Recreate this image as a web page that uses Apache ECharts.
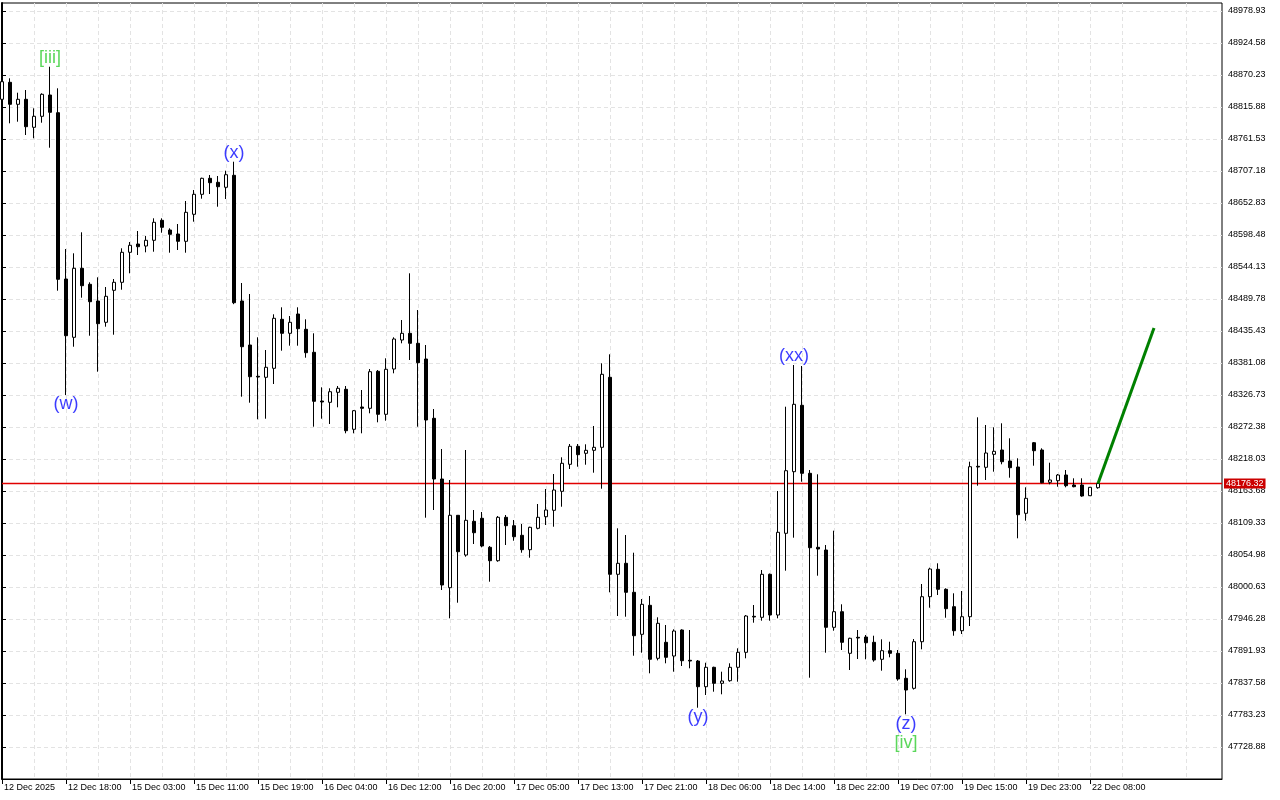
<!DOCTYPE html>
<html>
<head>
<meta charset="utf-8">
<script src="https://cdn.jsdelivr.net/npm/echarts@6/dist/echarts.min.js"></script>
<style>
html,body{margin:0;padding:0;background:#fff;}
#chart{width:1280px;height:800px;}
</style>
</head>
<body>
<div id="chart"></div>
<script>
// ---- data (hourly bars, index 0 = 12 Dec 2025 10:00) ----
const opens = [48828.95,48857.83,48820.46,48828.95,48781.40,48800.08,48836.26,48806.20,48523.75,48424.73,
48541.92,48514.74,48486.38,48450.20,48504.55,48518.14,48569.09,48583.19,48579.79,48589.47,
48623.44,48606.97,48600.18,48587.78,48633.63,48667.60,48694.78,48687.98,48679.49,48699.87,
48486.38,48411.65,48358.49,48356.79,48372.08,48455.30,48431.52,48464.30,48438.31,48399.25,
48316.54,48314.33,48331.31,48336.41,48268.47,48306.34,48304.14,48366.98,48293.95,48370.89,
48420.14,48431.52,48414.54,48387.87,48287.15,48184.06,47999.45,48122.40,48054.98,48112.21,
48117.31,48068.05,48045.29,48119.01,48104.74,48088.44,48063.98,48100.32,48120.02,48130.90,
48163.17,48209.02,48239.59,48227.71,48232.80,48237.90,48356.79,48022.20,48040.88,47991.62,
47920.29,47969.55,47879.53,47906.70,47883.43,47927.59,47876.13,47874.93,47831.29,47864.24,
47837.07,47841.48,47864.24,47889.72,47950.86,47949.16,48022.20,47953.07,48091.83,48196.46,
48309.23,48193.74,48068.05,48063.47,47932.18,47958.67,47888.02,47915.19,47915.70,47906.70,
47877.83,47892.44,47888.02,47845.56,47828.57,47907.72,47984.15,48030.69,47996.72,47967.17,
47926.40,47950.18,48205.63,48203.93,48226.01,48233.31,48214.63,48204.44,48125.80,48245.71,
48233.31,48178.45,48181.17,48190.85,48173.87,48173.87,48155.69,48169.28];
const highs = [48863.43,48864.62,48840.16,48844.75,48813.67,48839.15,48884.32,48847.64,48574.70,48567.40,
48603.06,48518.14,48526.63,48510.16,48523.75,48575.89,48586.59,48605.27,48596.78,48626.84,
48626.84,48609.86,48617.16,48656.22,48674.91,48695.80,48700.38,48698.68,48707.69,48722.97,
48516.95,48498.27,48424.73,48403.16,48463.79,48475.68,48460.90,48475.68,48455.30,48431.52,
48339.80,48338.11,48342.01,48342.01,48301.25,48335.22,48370.89,48369.19,48389.06,48424.73,
48454.11,48533.43,48471.09,48411.65,48302.95,48235.01,48182.36,48122.91,48233.31,48131.41,
48128.01,48070.26,48121.21,48122.91,48114.42,48107.63,48103.04,48141.60,48167.07,48192.55,
48220.91,48243.50,48243.50,48242.99,48274.08,48380.57,48395.85,48100.32,48088.94,48058.88,
47980.24,47985.34,47949.16,47936.08,47928.78,47928.78,47927.59,47876.64,47872.05,47865.26,
47856.77,47871.04,47896.51,47953.07,47970.05,48029.50,48023.50,48163.68,48306.85,48377.68,
48375.98,48199.34,48192.04,48071.96,48096.25,47971.24,47914.52,47927.59,47919.10,47917.91,
47911.80,47907.72,47893.62,47860.84,47912.31,48005.72,48033.41,48040.88,47998.42,47989.93,
47993.83,48213.44,48288.85,48275.77,48271.87,48278.66,48253.18,48219.21,48169.96,48246.90,
48236.20,48211.74,48192.55,48199.34,48185.25,48185.25,48170.50,48176.85];
const lows = [48822.67,48788.19,48790.91,48768.32,48762.72,48789.21,48746.75,48503.87,48326.73,48408.76,
48491.98,48427.44,48366.30,48442.73,48429.14,48505.56,48533.43,48564.51,48569.09,48570.11,
48602.38,48568.42,48573.00,48568.42,48621.07,48660.13,48668.11,48646.54,48659.62,48481.00,
48323.84,48313.65,48285.45,48286.47,48345.41,48401.97,48410.46,48410.46,48390.08,48272.89,
48286.47,48277.47,48305.84,48261.68,48261.68,48261.68,48295.64,48280.36,48283.08,48363.58,
48414.54,48386.17,48272.89,48118.33,48131.41,47995.53,47947.46,47973.96,48052.09,48073.66,
48068.05,48009.63,48043.50,48071.96,48079.26,48058.88,48050.39,48098.62,48105.93,48103.04,
48137.01,48201.04,48204.95,48208.34,48194.76,48167.58,47991.62,47951.37,47950.18,47883.94,
47889.04,47854.05,47876.00,47871.04,47856.77,47866.45,47862.54,47795.62,47817.19,47822.80,
47818.38,47839.78,47839.78,47879.53,47940.00,47943.39,47943.39,47947.46,48028.31,48084.36,
48179.47,47846.58,48019.82,47889.04,47926.40,47893.62,47859.66,47878.34,47877.83,47873.75,
47858.47,47881.23,47841.48,47784.41,47826.50,47894.81,47965.47,47987.04,47948.48,47917.91,
47920.80,47934.39,48172.68,48182.36,48196.46,48209.02,48186.27,48083.34,48113.23,48206.65,
48176.75,48175.05,48171.00,48169.96,48169.96,48153.99,48155.20,48167.58];
const closes = [48858.85,48820.46,48828.95,48782.42,48800.08,48837.45,48806.88,48523.24,48427.44,48541.92,
48512.37,48485.19,48447.82,48494.36,48518.14,48569.09,48580.98,48578.60,48589.47,48620.05,
48611.55,48599.67,48587.78,48637.03,48667.60,48694.78,48687.31,48680.51,48700.89,48483.49,
48408.76,48357.80,48357.30,48373.79,48457.00,48431.52,48450.20,48439.33,48398.57,48316.03,
48314.84,48332.33,48338.11,48266.09,48300.06,48304.14,48366.30,48293.95,48370.38,48421.84,
48431.52,48414.54,48381.59,48284.27,48184.06,48004.02,48122.40,48060.58,48113.91,48092.85,
48070.26,48045.29,48119.01,48104.74,48086.06,48063.98,48102.02,48119.01,48131.41,48165.37,
48210.72,48239.59,48225.33,48232.80,48237.90,48361.88,48022.20,48040.88,47991.62,47917.91,
47971.24,47877.83,47938.97,47881.23,47925.89,47875.45,47874.93,47831.29,47864.24,47837.07,
47840.97,47864.24,47889.72,47951.37,47949.67,48022.20,47953.07,48093.53,48198.16,48310.93,
48193.74,48067.38,48065.17,47932.18,47958.67,47906.70,47913.50,47914.01,47906.02,47876.64,
47892.44,47888.02,47844.37,47825.69,47907.72,47984.15,48031.20,47996.72,47963.77,47926.40,
47950.18,48204.95,48204.44,48228.22,48231.10,48213.44,48203.25,48123.42,48151.28,48232.12,
48177.77,48182.36,48190.85,48172.68,48171.00,48155.18,48169.96,48176.32];

// x tick labels, one every 8 bars starting at bar 0
const xTickLabels = ['12 Dec 2025','12 Dec 18:00','15 Dec 03:00','15 Dec 11:00','15 Dec 19:00',
'16 Dec 04:00','16 Dec 12:00','16 Dec 20:00','17 Dec 05:00','17 Dec 13:00','17 Dec 21:00',
'18 Dec 06:00','18 Dec 14:00','18 Dec 22:00','19 Dec 07:00','19 Dec 15:00','19 Dec 23:00','22 Dec 08:00'];
// price axis tick labels
const yTickLabels = [47728.88,47783.23,47837.58,47891.93,47946.28,48000.63,48054.98,48109.33,48163.68,
48218.03,48272.38,48326.73,48381.08,48435.43,48489.78,48544.13,48598.48,48652.83,48707.18,48761.53,
48815.88,48870.23,48924.58,48978.93];
const Y_STEP = 54.35;
const Y_MIN = 47674.53;
const Y_MAX = 48992.52;
const X_MAX = 152.5;

// current bid line
const currentPrice = 48176.32;
// projection line: [bar index, price]
const projection = [[137, 48176.32],[144, 48440.5]];
// wave labels: bar index, anchor ('high' | 'low'), text, degree
const waveLabels = [
  {bar:6, at:'high', text:'[iii]', kind:'major'},
  {bar:8, at:'low', text:'(w)', kind:'minor'},
  {bar:29, at:'high', text:'(x)', kind:'minor'},
  {bar:87, at:'low', text:'(y)', kind:'minor'},
  {bar:99, at:'high', text:'(xx)', kind:'minor'},
  {bar:113, at:'low', text:'(z)', kind:'minor', extra:'[iv]'}
];

// ---- build ----
const off = v => v - Y_MIN;
const candleData = opens.map((o,i)=>[i, off(o), off(closes[i]), off(lows[i]), off(highs[i])]);
const BLUE = '#0a0aff', GREEN = '#32cd32', RED = '#e00000';
const FONT = 'Liberation Sans';

const waveData = waveLabels.map(w => {
  const v = w.at === 'high' ? highs[w.bar] : lows[w.bar];
  let txt;
  if (w.extra) txt = '{m|' + w.text + '}\n{g|' + w.extra + '}';
  else txt = (w.kind === 'major' ? '{g|' : '{m|') + w.text + '}';
  return {
    value: [w.bar, off(v)],
    label: {position: w.at === 'high' ? 'top' : 'bottom', formatter: txt, distance: w.at === 'high' ? -1 : 0}
  };
});

const chart = echarts.init(document.getElementById('chart'), null, {renderer:'canvas'});
const dash = {type:[4,3], color:'#e3e3e3', width:1};
chart.setOption({
  animation:false,
  backgroundColor:'#ffffff',
  grid:{left:2, right:58, top:3, bottom:21, show:true, borderColor:'#000', borderWidth:1, backgroundColor:'#fff'},
  xAxis:{
    type:'value', min:0, max:X_MAX, interval:8,
    axisLine:{show:true, onZero:false, lineStyle:{color:'#000', width:1}},
    axisTick:{show:true, length:5, lineStyle:{color:'#000'}, customValues: xTickLabels.map((_,k)=>k*8)},
    axisLabel:{show:true, customValues: xTickLabels.map((_,k)=>k*8), align:'left', margin:4, padding:[0,0,0,2],
      fontFamily:FONT, fontSize:9, color:'#000',
      formatter: v => xTickLabels[Math.round(v/8)] || ''},
    splitLine:{show:true, lineStyle:dash},
    minorTick:{show:false, splitNumber:2},
    minorSplitLine:{show:true, lineStyle:dash}
  },
  yAxis:{
    type:'value', position:'right', min:0, max:off(Y_MAX), interval:Y_STEP, scale:false,
    axisLine:{show:true, lineStyle:{color:'#000', width:2}},
    axisTick:{show:true, length:4, inside:false, lineStyle:{color:'#000'}, customValues: yTickLabels.map(off)},
    axisLabel:{show:true, customValues: yTickLabels.map(off), margin:6, fontFamily:FONT, fontSize:9, color:'#000',
      formatter: v => (v + Y_MIN).toFixed(2)},
    splitLine:{show:true, lineStyle:dash}
  },
  series:[
    {
      type:'line',
      name:'bid',
      data:[[0, off(currentPrice)],[X_MAX, off(currentPrice)]],
      showSymbol:false, symbol:'none', z:3, silent:true,
      color: RED,
      lineStyle:{color:RED, width:1.5, type:'solid'},
      endLabel:{show:true, formatter: currentPrice.toFixed(2), distance:2,
        backgroundColor:'#cc0000', color:'#fff', fontFamily:FONT, fontSize:9, padding:[1,2,0,2]}
    },
    {
      type:'candlestick',
      data:candleData,
      encode:{x:0, y:[1,2,3,4]},
      barWidth:4,
      z:5,
      itemStyle:{color:'#ffffff', color0:'#000000', borderColor:'#000000', borderColor0:'#000000', borderWidth:1}
    },
    {
      type:'line',
      data: projection.map(p=>[p[0], off(p[1])]),
      showSymbol:false, symbol:'none', z:6,
      lineStyle:{color:'#008000', width:3}
    },
    {
      type:'scatter',
      data: waveData,
      symbolSize:0, z:7,
      label:{show:true, fontFamily:FONT, fontSize:18, lineHeight:19,
        rich:{
          m:{color:BLUE, fontFamily:FONT, fontSize:18, lineHeight:19},
          g:{color:GREEN, fontFamily:FONT, fontSize:18, lineHeight:19}
        }}
    }
  ]
});
</script>
</body>
</html>
